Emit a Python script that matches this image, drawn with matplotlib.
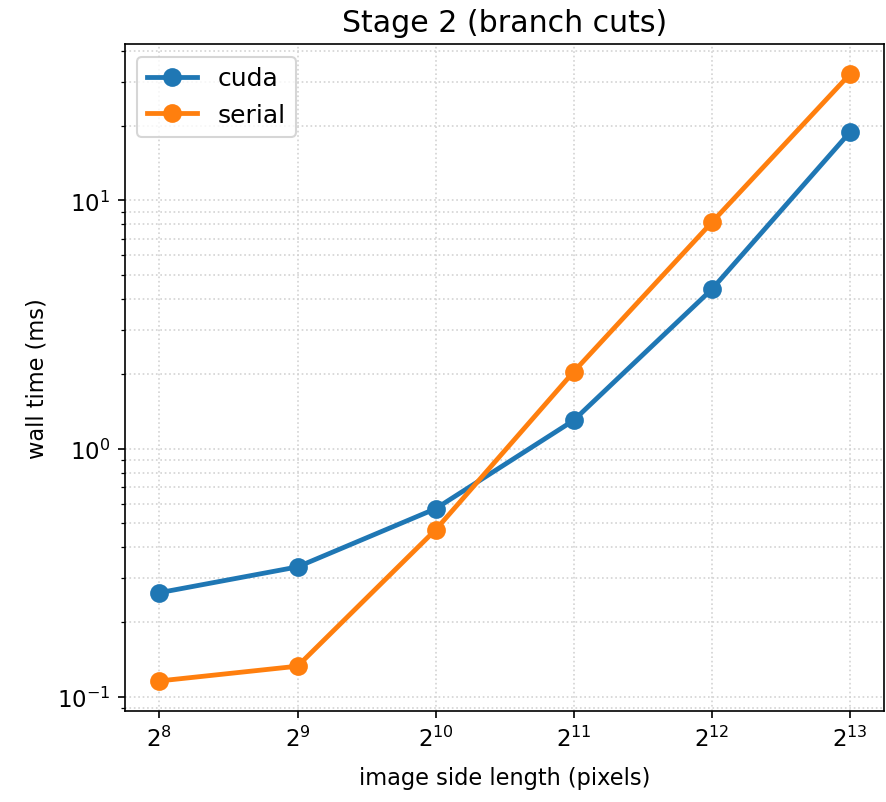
import matplotlib
matplotlib.use("Agg")
import matplotlib.pyplot as plt

sizes = [2**8, 2**9, 2**10, 2**11, 2**12, 2**13]
cuda_ms = [0.263, 0.334, 0.573, 1.30, 4.38, 18.8]
serial_ms = [0.116, 0.133, 0.471, 2.04, 8.15, 32.2]

fig = plt.figure(figsize=(5.907, 5.353), dpi=150)
ax = fig.add_subplot(111)
fig.subplots_adjust(left=0.141, right=0.998, top=0.944, bottom=0.113)

ax.plot(sizes, cuda_ms, '-o', lw=2.3, ms=8, label='cuda')
ax.plot(sizes, serial_ms, '-o', lw=2.3, ms=8, label='serial')
ax.set_xscale('log', base=2)
ax.set_yscale('log')
ax.grid(True, which='both', ls=':', color='lightgray')
ax.set_title('Stage 2 (branch cuts)', fontsize=14.4)
ax.set_xlabel('image side length (pixels)', fontsize=10.8, labelpad=7)
ax.set_ylabel('wall time (ms)', fontsize=10.8)
ax.tick_params(labelsize=11)
ax.legend(loc='upper left', fontsize=12)

plt.savefig("out.png", dpi=150)
